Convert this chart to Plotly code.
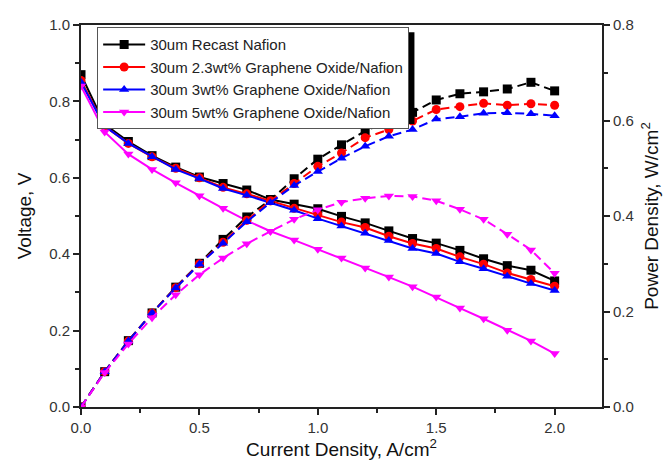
import plotly.graph_objects as go

current = [0.0, 0.1, 0.2, 0.3, 0.4, 0.5, 0.6, 0.7, 0.8, 0.9, 1.0,
           1.1, 1.2, 1.3, 1.4, 1.5, 1.6, 1.7, 1.8, 1.9, 2.0]

names = ["30um Recast Nafion",
         "30um 2.3wt% Graphene Oxide/Nafion",
         "30um 3wt% Graphene Oxide/Nafion",
         "30um 5wt% Graphene Oxide/Nafion"]

v_recast = [0.870, 0.740, 0.695, 0.658, 0.628, 0.602, 0.585, 0.568, 0.543, 0.531, 0.519,
            0.499, 0.482, 0.461, 0.441, 0.429, 0.410, 0.388, 0.370, 0.358, 0.330]
v_go23 = [0.855, 0.735, 0.690, 0.655, 0.625, 0.600, 0.575, 0.558, 0.540, 0.520, 0.504,
          0.484, 0.470, 0.447, 0.428, 0.415, 0.393, 0.374, 0.351, 0.334, 0.316]
v_go3 = [0.850, 0.735, 0.690, 0.655, 0.622, 0.598, 0.572, 0.554, 0.535, 0.515, 0.493,
         0.474, 0.455, 0.436, 0.415, 0.402, 0.380, 0.362, 0.342, 0.323, 0.305]
v_go5 = [0.840, 0.720, 0.662, 0.622, 0.587, 0.553, 0.520, 0.488, 0.460, 0.437, 0.413,
         0.390, 0.364, 0.340, 0.315, 0.288, 0.259, 0.231, 0.201, 0.173, 0.140]

p_recast = [0.000, 0.074, 0.139, 0.197, 0.251, 0.301, 0.351, 0.398, 0.434, 0.478, 0.519,
            0.549, 0.578, 0.599, 0.617, 0.643, 0.656, 0.660, 0.666, 0.680, 0.662]
p_go23 = [0.000, 0.074, 0.138, 0.197, 0.250, 0.300, 0.345, 0.391, 0.432, 0.468, 0.504,
          0.532, 0.564, 0.581, 0.599, 0.623, 0.629, 0.636, 0.632, 0.635, 0.632]
p_go3 = [0.000, 0.074, 0.138, 0.197, 0.249, 0.299, 0.343, 0.388, 0.428, 0.464, 0.493,
         0.521, 0.546, 0.567, 0.581, 0.603, 0.608, 0.615, 0.616, 0.614, 0.610]
p_go5 = [0.000, 0.072, 0.132, 0.187, 0.235, 0.277, 0.312, 0.342, 0.368, 0.393, 0.413,
         0.429, 0.437, 0.442, 0.441, 0.432, 0.414, 0.393, 0.362, 0.329, 0.280]

voltages = [v_recast, v_go23, v_go3, v_go5]
powers = [p_recast, p_go23, p_go3, p_go5]
colors = ["#000000", "#FF0000", "#0000FF", "#FF00FF"]
symbols = ["square", "circle", "triangle-up", "triangle-down"]

FONT = "Liberation Sans, Arial, sans-serif"

fig = go.Figure()
for i in range(4):
    fig.add_trace(go.Scatter(
        x=current, y=voltages[i], name=names[i], mode="lines+markers",
        line=dict(color=colors[i], width=2),
        marker=dict(symbol=symbols[i], size=9, color=colors[i]),
        legendgroup=str(i), yaxis="y"))
for i in range(4):
    fig.add_trace(go.Scatter(
        x=current, y=powers[i], name=names[i], mode="lines+markers",
        line=dict(color=colors[i], width=2, dash="9px,5px"),
        marker=dict(symbol=symbols[i], size=9, color=colors[i]),
        legendgroup=str(i), showlegend=False, yaxis="y2"))

axis_common = dict(
    showline=True, linecolor="#222", linewidth=2,
    ticks="outside", ticklen=6, tickwidth=1.5, tickcolor="#222",
    showgrid=False, zeroline=False, automargin=False,
    tickfont=dict(family=FONT, size=15, color="#333"),
)
minor = dict(ticklen=4, tickcolor="#222", ticks="outside", tickwidth=1.5)

fig.update_layout(
    width=663, height=460,
    margin=dict(l=81, r=61, t=25, b=53),
    paper_bgcolor="white", plot_bgcolor="white",
    font=dict(family=FONT, color="#222"),
    xaxis=dict(range=[0, 2.2], dtick=0.5, tickformat=".1f", mirror=True,
               minor=dict(dtick=0.25, **minor),
               title=dict(text="Current Density, A/cm<sup>2</sup>",
                          font=dict(family=FONT, size=19, color="#111"), standoff=4),
               **axis_common),
    yaxis=dict(range=[0, 1.0], dtick=0.2, tickformat=".1f",
               minor=dict(dtick=0.1, **minor),
               title=dict(text="Voltage, V",
                          font=dict(family=FONT, size=19, color="#111"), standoff=12),
               **axis_common),
    yaxis2=dict(range=[0, 0.8], dtick=0.2, tickformat=".1f", overlaying="y", side="right",
                minor=dict(dtick=0.1, **minor),
                title=dict(text="Power Density, W/cm<sup>2</sup>",
                           font=dict(family=FONT, size=19, color="#111"), standoff=12),
                **axis_common),
    legend=dict(x=0.031, y=0.994, xanchor="left", yanchor="top",
                bgcolor="white", bordercolor="#555", borderwidth=1,
                font=dict(family=FONT, size=15, color="#222"),
                tracegroupgap=0, itemwidth=42),
    shapes=[dict(type="rect", xref="paper", yref="paper",
                 x0=0.041, x1=0.64, y0=0.741, y1=0.981,
                 fillcolor="black", line=dict(width=0), layer="above")],
    showlegend=True,
)

fig.write_html("out.html")
